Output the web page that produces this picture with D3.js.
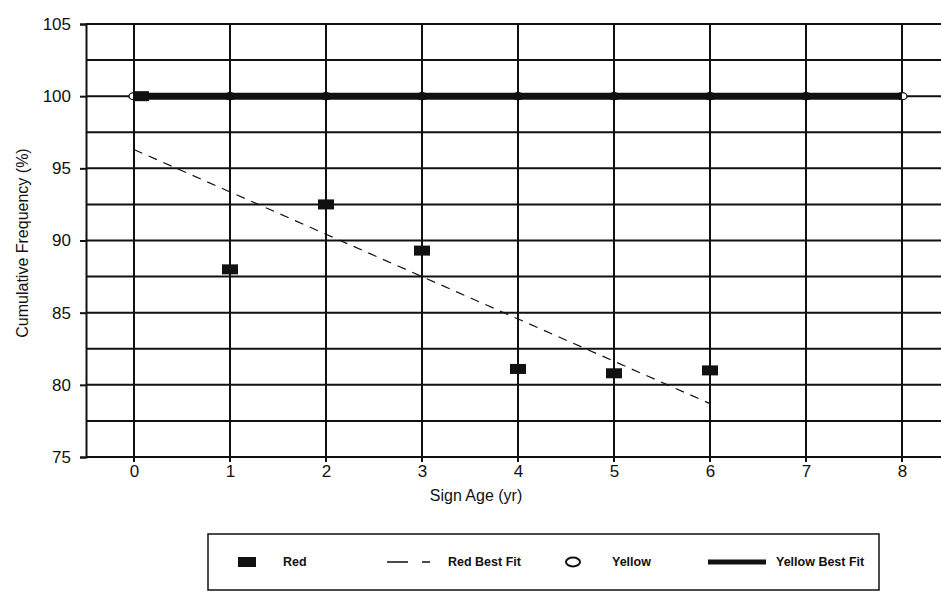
<!DOCTYPE html>
<html>
<head>
<meta charset="utf-8">
<script src="https://cdn.jsdelivr.net/npm/d3@7"></script>
<style>
  body { margin: 0; background: #fff; }
  svg { display: block; font-family: 'Liberation Sans', Arial, sans-serif; }
</style>
</head>
<body>
<svg id="chart" width="941" height="591"></svg>
<script>
const years = [0, 1, 2, 3, 4, 5, 6, 7, 8];
const redYears = [0, 1, 2, 3, 4, 5, 6];
const redValues = [100, 88.0, 92.5, 89.3, 81.1, 80.8, 81.0];
const redFitYears = [0, 6];
const redFitValues = [96.3, 78.7];
const yellowYears = [0, 1, 2, 3, 4, 5, 6, 7, 8];
const yellowValues = [100, 100, 100, 100, 100, 100, 100, 100, 100];
const yellowFitYears = [0, 8];
const yellowFitValues = [100, 100];
const yTicks = [75, 80, 85, 90, 95, 100, 105];
const yGrid = [75, 77.5, 80, 82.5, 85, 87.5, 90, 92.5, 95, 97.5, 100, 102.5, 105];
const legendItems = ['Red', 'Red Best Fit', 'Yellow', 'Yellow Best Fit'];

const svg = d3.select('#chart');
const font = "'Liberation Sans', Arial, sans-serif";

const x = d3.scaleLinear().domain([-0.5, 8.5]).range([86, 950]);
const y = d3.scaleLinear().domain([75, 105]).range([457, 24]);

const plot = svg.append('g');

// grid
plot.append('g')
  .selectAll('line')
  .data(yGrid)
  .join('line')
  .attr('x1', x(-0.5)).attr('x2', x(8.5))
  .attr('y1', d => y(d)).attr('y2', d => y(d))
  .attr('stroke', '#111').attr('stroke-width', 2);

plot.append('g')
  .selectAll('line')
  .data(years)
  .join('line')
  .attr('x1', d => x(d)).attr('x2', d => x(d))
  .attr('y1', y(105)).attr('y2', y(75) + 5)
  .attr('stroke', '#111').attr('stroke-width', 2);

// left axis
const yAxis = plot.append('g')
  .attr('transform', `translate(${x(-0.5)},0)`)
  .call(d3.axisLeft(y).tickValues(yTicks).tickSize(6).tickPadding(9));
yAxis.select('.domain').attr('stroke', '#111').attr('stroke-width', 2);
yAxis.selectAll('.tick line').attr('stroke', '#111').attr('stroke-width', 2);
yAxis.selectAll('text').attr('font-size', 17).attr('fill', '#111')
  .attr('font-family', font);

// bottom axis labels
const xAxis = plot.append('g')
  .attr('transform', `translate(0,${y(75)})`)
  .call(d3.axisBottom(x).tickValues(years).tickSize(0).tickPadding(8).tickFormat(d3.format('d')));
xAxis.select('.domain').remove();
xAxis.selectAll('text').attr('font-size', 17).attr('fill', '#111')
  .attr('font-family', font);

// axis titles
svg.append('text')
  .attr('x', 476).attr('y', 501)
  .attr('text-anchor', 'middle')
  .attr('font-size', 16).attr('fill', '#111')
  .text('Sign Age (yr)');

svg.append('text')
  .attr('transform', 'translate(28,243) rotate(-90)')
  .attr('text-anchor', 'middle')
  .attr('font-size', 16).attr('fill', '#111')
  .text('Cumulative Frequency (%)');

// red best fit
const line = d3.line().x(d => x(d[0])).y(d => y(d[1]));
plot.append('path')
  .datum(d3.zip(redFitYears, redFitValues))
  .attr('d', line)
  .attr('fill', 'none')
  .attr('stroke', '#111').attr('stroke-width', 1.2)
  .attr('stroke-dasharray', '9,7');

// yellow points (mostly hidden under the fit line)
plot.append('g')
  .selectAll('ellipse')
  .data(d3.zip(yellowYears, yellowValues))
  .join('ellipse')
  .attr('cx', d => x(d[0])).attr('cy', d => y(d[1]))
  .attr('rx', 5).attr('ry', 3.5)
  .attr('fill', '#fff').attr('stroke', '#111').attr('stroke-width', 1.3);

// yellow best fit
plot.append('path')
  .datum(d3.zip(yellowFitYears, yellowFitValues))
  .attr('d', line)
  .attr('fill', 'none')
  .attr('stroke', '#111').attr('stroke-width', 7);

// red points
plot.append('g')
  .selectAll('rect')
  .data(d3.zip(redYears, redValues))
  .join('rect')
  .attr('x', d => x(d[0]) - 8 + (d[0] === 0 ? 7 : 0))
  .attr('y', d => y(d[1]) - 5)
  .attr('width', 16).attr('height', 10)
  .attr('fill', '#111');

// legend
const legend = svg.append('g');
legend.append('rect')
  .attr('x', 208).attr('y', 534).attr('width', 671).attr('height', 56)
  .attr('fill', '#fff').attr('stroke', '#111').attr('stroke-width', 1.5);

const ly = 562;
legend.append('rect').attr('x', 238).attr('y', ly - 5).attr('width', 18).attr('height', 10).attr('fill', '#111');
legend.append('line').attr('x1', 387).attr('x2', 430).attr('y1', ly).attr('y2', ly)
  .attr('stroke', '#111').attr('stroke-width', 1.3).attr('stroke-dasharray', '21,14,8');
legend.append('ellipse').attr('cx', 573).attr('cy', ly).attr('rx', 7).attr('ry', 4.5)
  .attr('fill', '#fff').attr('stroke', '#111').attr('stroke-width', 2);
legend.append('line').attr('x1', 708).attr('x2', 766).attr('y1', ly).attr('y2', ly)
  .attr('stroke', '#111').attr('stroke-width', 5);

const legendX = [283, 448, 612, 776];
legend.selectAll('text.lg')
  .data(legendItems)
  .join('text')
  .attr('class', 'lg')
  .attr('x', (d, i) => legendX[i]).attr('y', ly + 4)
  .attr('font-size', 12.5).attr('font-weight', 'bold').attr('fill', '#111')
  .text(d => d);
</script>
</body>
</html>
